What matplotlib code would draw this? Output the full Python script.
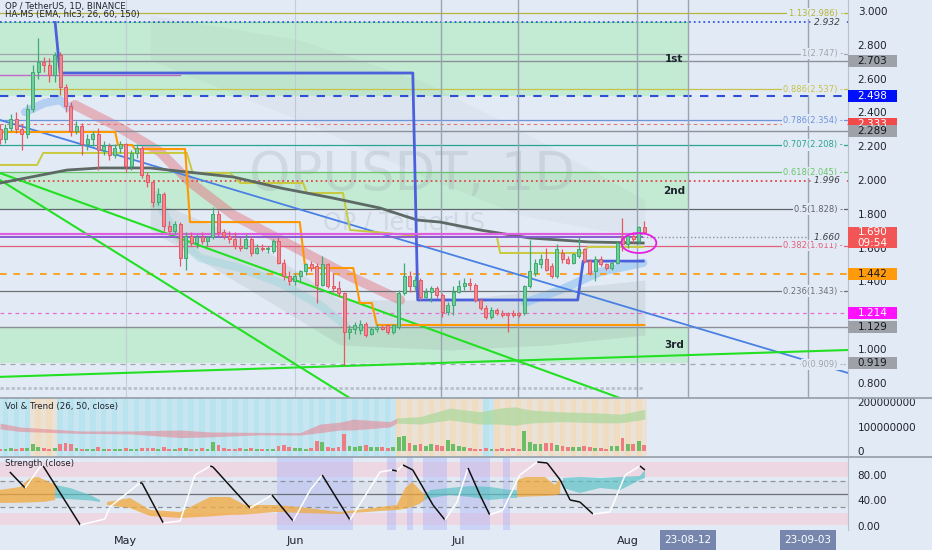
import numpy as np
import pandas as pd
import matplotlib
matplotlib.use("Agg")
import matplotlib.pyplot as plt
from matplotlib.patches import Rectangle, Ellipse
from matplotlib.collections import LineCollection
from matplotlib.lines import Line2D

# ---------------- data ----------------
start = pd.Timestamp("2023-04-08")

opens = [2.30, 2.24, 2.31, 2.36, 2.30, 2.27, 2.42, 2.64, 2.70, 2.68,
         2.62, 2.74, 2.55, 2.44, 2.29, 2.32, 2.21, 2.24, 2.27, 2.18,
         2.20, 2.15, 2.19, 2.21, 2.08, 2.16, 2.19, 2.03, 1.99, 1.87,
         1.92, 1.73, 1.70, 1.74, 1.54, 1.67, 1.63, 1.66, 1.64, 1.66,
         1.80, 1.69, 1.67, 1.65, 1.61, 1.60, 1.65, 1.57, 1.60, 1.59,
         1.58, 1.64, 1.51, 1.43, 1.40, 1.43, 1.46, 1.50, 1.49, 1.38,
         1.50, 1.37, 1.36, 1.33, 1.10, 1.12, 1.11, 1.15, 1.09, 1.12,
         1.13, 1.14, 1.10, 1.13, 1.33, 1.43, 1.37, 1.41, 1.31, 1.34,
         1.36, 1.32, 1.22, 1.26, 1.34, 1.37, 1.39, 1.38, 1.29, 1.24,
         1.19, 1.23, 1.21, 1.21, 1.21, 1.21, 1.21, 1.37, 1.45, 1.50,
         1.53, 1.49, 1.43, 1.57, 1.53, 1.51, 1.55, 1.59, 1.52, 1.46,
         1.53, 1.50, 1.48, 1.51, 1.66, 1.62, 1.67, 1.64, 1.72]
highs = [2.33, 2.33, 2.39, 2.40, 2.33, 2.45, 2.68, 2.84, 2.73, 2.72,
         2.76, 2.76, 2.57, 2.46, 2.35, 2.34, 2.27, 2.29, 2.31, 2.23,
         2.22, 2.21, 2.23, 2.22, 2.18, 2.21, 2.20, 2.05, 2.00, 1.95,
         1.93, 1.76, 1.76, 1.75, 1.69, 1.69, 1.68, 1.69, 1.67, 1.84,
         1.82, 1.71, 1.70, 1.69, 1.66, 1.68, 1.67, 1.62, 1.62, 1.61,
         1.65, 1.66, 1.53, 1.46, 1.45, 1.47, 1.51, 1.52, 1.51, 1.55,
         1.51, 1.45, 1.40, 1.34, 1.14, 1.16, 1.17, 1.16, 1.13, 1.15,
         1.14, 1.15, 1.15, 1.35, 1.51, 1.46, 1.43, 1.42, 1.36, 1.37,
         1.37, 1.33, 1.28, 1.37, 1.41, 1.42, 1.42, 1.39, 1.30, 1.26,
         1.25, 1.24, 1.23, 1.22, 1.23, 1.22, 1.38, 1.645, 1.53, 1.56,
         1.60, 1.51, 1.62, 1.59, 1.55, 1.57, 1.66, 1.60, 1.53, 1.55,
         1.55, 1.51, 1.52, 1.64, 1.775, 1.68, 1.69, 1.73, 1.76]
lows = [2.21, 2.22, 2.29, 2.28, 2.18, 2.25, 2.40, 2.60, 2.64, 2.58,
        2.58, 2.50, 2.40, 2.26, 2.27, 2.15, 2.18, 2.20, 2.06, 2.15,
        2.12, 2.13, 2.16, 2.05, 2.06, 2.13, 2.01, 1.96, 1.84, 1.85,
        1.70, 1.68, 1.68, 1.49, 1.47, 1.61, 1.60, 1.62, 1.61, 1.65,
        1.67, 1.65, 1.63, 1.59, 1.58, 1.59, 1.55, 1.56, 1.58, 1.57,
        1.57, 1.50, 1.41, 1.38, 1.38, 1.40, 1.44, 1.46, 1.27, 1.37,
        1.36, 1.34, 1.31, 0.905, 1.06, 1.09, 1.09, 1.07, 1.08, 1.10,
        1.11, 1.09, 1.09, 1.12, 1.32, 1.34, 1.35, 1.29, 1.30, 1.28,
        1.30, 1.19, 1.20, 1.20, 1.33, 1.35, 1.35, 1.28, 1.23, 1.18,
        1.18, 1.20, 1.19, 1.10, 1.19, 1.19, 1.20, 1.36, 1.43, 1.48,
        1.46, 1.42, 1.42, 1.51, 1.50, 1.50, 1.54, 1.51, 1.44, 1.40,
        1.49, 1.47, 1.47, 1.50, 1.58, 1.60, 1.63, 1.62, 1.68]
closes = [2.24, 2.31, 2.36, 2.30, 2.27, 2.42, 2.64, 2.70, 2.68, 2.62,
          2.74, 2.55, 2.44, 2.29, 2.32, 2.21, 2.24, 2.27, 2.18, 2.20,
          2.15, 2.19, 2.21, 2.08, 2.16, 2.19, 2.03, 1.99, 1.87, 1.92,
          1.73, 1.70, 1.74, 1.54, 1.67, 1.63, 1.66, 1.64, 1.66, 1.80,
          1.69, 1.67, 1.65, 1.61, 1.60, 1.65, 1.57, 1.60, 1.59, 1.60,
          1.64, 1.51, 1.43, 1.40, 1.43, 1.46, 1.50, 1.48, 1.38, 1.50,
          1.37, 1.36, 1.33, 1.10, 1.12, 1.14, 1.15, 1.08, 1.12, 1.13,
          1.12, 1.10, 1.14, 1.33, 1.43, 1.37, 1.41, 1.31, 1.34, 1.36,
          1.32, 1.22, 1.26, 1.34, 1.37, 1.39, 1.38, 1.29, 1.24, 1.19,
          1.23, 1.21, 1.20, 1.20, 1.20, 1.20, 1.37, 1.46, 1.51, 1.53,
          1.47, 1.43, 1.59, 1.53, 1.51, 1.56, 1.59, 1.52, 1.45, 1.53,
          1.50, 1.48, 1.51, 1.63, 1.62, 1.67, 1.65, 1.72, 1.69]
# volume in millions
volumes = [10, 8, 12, 9, 11, 14, 27, 18, 12, 10,
           13, 30, 33, 28, 12, 9, 10, 8, 15, 9,
           7, 8, 9, 12, 8, 9, 14, 11, 13, 10,
           16, 9, 8, 14, 12, 10, 9, 11, 8, 37,
           26, 12, 10, 9, 11, 8, 13, 10, 9, 8,
           10, 22, 25, 16, 14, 12, 10, 14, 42, 35,
           18, 14, 16, 68, 20, 18, 22, 24, 17, 15,
           16, 14, 18, 58, 62, 34, 26, 30, 22, 27,
           24, 20, 45, 30, 20, 18, 12, 10, 9, 11,
           8, 10, 12, 9, 11, 10, 80, 38, 30, 28,
           34, 32, 25, 20, 18, 15, 17, 22, 16, 14,
           12, 10, 20, 22, 52, 30, 28, 40, 25]

# fibonacci retracement
fib_ratio = ["1.13", "1", "0.886", "0.786", "0.707", "0.618", "0.5", "0.382", "0.236", "0"]
fib_price = [2.986, 2.747, 2.537, 2.354, 2.208, 2.045, 1.828, 1.611, 1.343, 0.909]

# zones
zone_names = ["1st", "2nd", "3rd"]
zone_lo = [2.498, 1.828, 0.919]
zone_hi = [2.932, 2.045, 1.129]
zone_end = "2023-08-12"

# price-scale labels
price_ticks = [0.8, 1.0, 1.4, 1.6, 1.8, 2.0, 2.2, 2.4, 2.6, 2.8, 3.0]
box_price = [2.703, 2.498, 2.333, 2.289, 1.442, 1.214, 1.129, 0.919]
last_price = 1.690
countdown = "09:54"
level_notes = [2.932, 1.996, 1.660]

# indicator lines (day offset, price)
hams_days = [10.1, 11.0, 75.6, 76.5, 105.8, 106.8, 117.8]
hams_vals = [2.932, 2.633, 2.633, 1.290, 1.290, 1.52, 1.52]
base_days = [0, 21.1, 21.6, 24.2, 24.7, 33.9, 34.8, 54.9, 55.9, 64.7, 65.9, 68.1, 69.0, 118.0]
base_vals = [2.284, 2.284, 2.207, 2.207, 2.183, 2.183, 1.751, 1.751, 1.479, 1.479, 1.272, 1.272, 1.142, 1.142]
conv_days = [0, 6.8, 7.9, 34.2, 35.3, 42.1, 44.0, 55.5, 56.2, 62.8, 64.1, 70.9, 77.5, 91.0, 91.6, 106.8, 107.7, 117.8]
conv_vals = [2.089, 2.089, 2.160, 2.160, 2.041, 2.041, 1.982, 1.982, 1.923, 1.923, 1.704, 1.686, 1.663, 1.663, 1.568, 1.568, 1.604, 1.604]
ema_days = [0, 12.3, 18.3, 27.5, 42.7, 51.3, 61.0, 69.6, 76.4, 80.6, 87.9, 97.0, 108.0, 117.8]
ema_vals = [1.982, 2.059, 2.071, 2.071, 2.018, 1.953, 1.893, 1.834, 1.763, 1.751, 1.704, 1.657, 1.633, 1.627]
red_rib_days = [13.7, 22.0, 29.3, 34.8, 42.7, 54.9, 64.1, 73.3]
red_rib_vals = [2.444, 2.308, 2.166, 1.988, 1.793, 1.586, 1.43, 1.29]
blue_rib_days = [4.6, 8.2, 11.0, 12.8]
blue_rib_vals = [2.402, 2.456, 2.473, 2.426]
teal_rib_days = [28.4, 32.1, 36.6, 44.0, 51.3, 58.6, 63.2]
teal_rib_vals = [1.911, 1.675, 1.538, 1.479, 1.391, 1.260, 1.142]
late_rib_days = [96.2, 102.6, 109.9, 117.8]
late_rib_vals = [1.275, 1.349, 1.456, 1.510]
cloud_a_days = [27.5, 54.9, 76.9, 95.2, 109.9, 118.1]
cloud_a_top = [2.976, 2.828, 2.592, 2.296, 2.030, 1.882]
cloud_a_bot = [2.710, 2.355, 2.030, 1.793, 1.704, 1.675]
cloud_b_days = [27.5, 45.8, 62.3, 82.4, 100.7, 118.1]
cloud_b_top = [1.882, 1.645, 1.290, 1.290, 1.349, 1.408]
cloud_b_bot = [1.704, 1.349, 1.024, 0.994, 1.024, 1.083]

# trend lines: (day, price) pairs
blue_trend = [(0, 2.355), (155.3, 0.858)]
green_trends = [[(0, 2.041), (120, 0.634)],
                [(0, 2.000), (70, 0.590)],
                [(0, 0.835), (155.3, 0.994)]]
marker_days = [80.8, 94.9, 116.7]

# volume trend band (millions), bull flag
vt_days = [0, 3.7, 9.2, 14.7, 23.8, 33.0, 38.5, 47.6, 54.9, 58.6, 62.3, 64.7, 71.4, 72.7,
           72.7, 76.9, 82.4, 87.9, 91.6, 94.3, 97.1, 102.6, 109.9, 113.6, 118.1]
vt_hi = [114, 98, 90, 82, 82, 86, 78, 76, 75, 110, 118, 130, 120, 135,
         135, 140, 175, 160, 175, 180, 167, 160, 155, 150, 170]
vt_lo = [90, 80, 76, 72, 70, 55, 58, 66, 65, 75, 86, 86, 98, 114,
         114, 110, 127, 110, 110, 105, 114, 120, 115, 115, 130]
vt_bull = [0, 0, 0, 0, 0, 0, 0, 0, 0, 0, 0, 0, 0, 0,
           1, 1, 1, 1, 1, 1, 1, 1, 1, 1, 1]
vol_orange_spans = [(5.5, 10.5), (72.5, 88.5), (90.5, 118.5)]

# strength oscillator
osc_days = [1.8, 4.6, 7.3, 7.9, 14.7, 19.2, 20.1, 25.6, 26.0, 29.9, 33.0, 35.7, 38.5, 39.0,
            45.8, 49.8, 53.7, 56.8, 59.0, 64.1, 69.6, 71.8, 72.7, 73.8, 75.6, 79.3, 81.5,
            83.7, 85.7, 87.9, 89.7, 92.1, 95.2, 98.4, 100.2, 102.6, 104.4, 106.2, 108.6,
            111.7, 114.5, 117.2, 118.1]
osc_vals = [84.7, 59.6, 92.5, 94.1, 1.6, 11.0, 29.8, 67.5, 67.5, 4.7, 7.8, 80.0, 94.1, 92.5,
            28.2, 48.6, 7.8, 56.5, 80.0, 9.4, 84.7, 87.8, 86.3, 95.7, 87.8, 32.9, 9.4,
            37.6, 91.0, 48.6, 17.3, 25.1, 80.0, 100.4, 98.8, 72.2, 40.8, 37.6, 18.8,
            22.0, 80.0, 94.1, 87.8]
str_days = [0.0, 3.7, 5.5, 7.0, 8.2, 10.1,
            10.1, 12.8, 16.5, 18.3,
            19.6, 23.8, 27.5, 33.0, 38.5, 42.1, 44.9, 50.4, 54.9, 62.3, 69.6, 72.7, 74.2, 75.5, 76.9, 77.8,
            77.8, 78.8, 82.4, 86.1, 89.7, 93.4, 94.7,
            94.7, 96.2, 99.8, 101.6, 102.6,
            103.1, 106.2, 109.9, 113.6, 117.2, 118.1]
str_hi = [56.5, 61.2, 75.3, 76.9, 72.2, 64.3,
          64.3, 59.6, 48.6, 40.8,
          37.6, 43.9, 25.1, 22.0, 45.5, 45.5, 32.9, 32.9, 29.8, 22.0, 29.8, 32.9, 59.6, 69.0, 56.5, 48.6,
          48.6, 56.5, 59.6, 62.7, 61.2, 56.5, 56.5,
          72.2, 76.9, 76.9, 64.3, 75.3,
          75.3, 76.9, 75.3, 76.9, 78.4, 87.8]
str_lo = [36.1, 36.5, 37.0, 37.5, 38.0, 40.8,
          43.9, 42.0, 40.0, 37.6,
          32.9, 28.0, 15.7, 12.5, 15.0, 17.3, 18.0, 22.0, 20.4, 18.8, 23.5, 25.0, 27.0, 30.0, 35.0, 40.8,
          40.8, 43.9, 48.6, 45.5, 40.8, 43.9, 43.9,
          45.5, 46.0, 47.1, 48.0, 50.2,
          59.6, 51.8, 59.6, 56.5, 72.2, 75.3]
str_bull = [1, 1, 1, 1, 1, 1,
            0, 0, 0, 0,
            1, 1, 1, 1, 1, 1, 1, 1, 1, 1, 1, 1, 1, 1, 1, 1,
            0, 0, 0, 0, 0, 0, 0,
            1, 1, 1, 1, 1,
            0, 0, 0, 0, 0, 0]
str_blue_spans = [(50.7, 64.7), (70.9, 72.5), (74.5, 75.6), (77.5, 81.9), (84.2, 89.7), (92.1, 93.4)]

month_labels = ["May", "Jun", "Jul", "Aug"]
month_dates = ["2023-05-01", "2023-06-01", "2023-07-01", "2023-08-01"]
mark_dates = ["2023-08-12", "2023-09-03"]

# ---------------- figure ----------------
BG = "#e2ebf5"
W, H = 932, 550
fig = plt.figure(figsize=(W / 100, H / 100), dpi=100, facecolor=BG)


def px_axes(x0, y0, x1, y1):
    return fig.add_axes([x0 / W, 1 - y1 / H, (x1 - x0) / W, (y1 - y0) / H])


ax = px_axes(0, 0, 848, 398)
ax_v = px_axes(0, 398, 848, 457)
ax_s = px_axes(0, 457, 848, 530)
ax_r = px_axes(848, 0, 932, 398)

days = np.arange(len(closes))
x_max = 155.3
day_of = lambda d: (pd.Timestamp(d) - start).days

for a in (ax, ax_v, ax_s):
    a.set_facecolor(BG)
    a.set_xlim(0, x_max)
    for s in a.spines.values():
        s.set_visible(False)
    a.spines["right"].set_visible(True)
    a.spines["right"].set_color("#b9c3cd")
    a.yaxis.tick_right()
    a.tick_params(axis="y", length=0, pad=7, labelsize=7.5, labelcolor="#1e222d")
    a.tick_params(axis="x", length=0)
    a.set_xticks([])

# ---- main price panel ----
ax.set_ylim(0.710, 3.065)
ax.set_yticks(price_ticks)
ax.set_yticklabels(["%.3f" % t for t in price_ticks])

zone_x = day_of(zone_end)
for name, lo, hi in zip(zone_names, zone_lo, zone_hi):
    ax.fill_between([0, zone_x], lo, hi, color="#9eeaa8", alpha=0.45, lw=0, zorder=0.3)
    ax.plot([0, zone_x], [hi, hi], color="#7fe08f", lw=0.8, zorder=0.4)
    ax.text(zone_x - 2.5, (lo + hi) / 2, name, ha="center", va="center", fontsize=7.5,
            fontweight="bold", color="#1e222d", zorder=6)

ax.fill_between(cloud_a_days, cloud_a_bot, cloud_a_top, color="#8f9aa3", alpha=0.07, lw=0, zorder=0.6)
ax.fill_between(cloud_b_days, cloud_b_bot, cloud_b_top, color="#7d8890", alpha=0.14, lw=0, zorder=0.6)

ax.text(75.5, 2.03, "OPUSDT, 1D", fontsize=38, ha="center", va="center", color="#8e99a6",
        alpha=0.22, zorder=0.7)
ax.text(74, 1.751, "OP / TetherUS", fontsize=17, ha="center", va="center", color="#8e99a6",
        alpha=0.22, zorder=0.7)

for d in [day_of(m) for m in month_dates[:2]]:
    ax.axvline(d, color="#c4ced8", lw=0.8, zorder=0.5)
for d in marker_days + [day_of(m) for m in mark_dates]:
    ax.axvline(d, color="#98a3b3", lw=1.0, zorder=1.5)

# ribbons
ax.plot(red_rib_days, red_rib_vals, color="#e36d7a", lw=7, alpha=0.45, solid_capstyle="round", zorder=1)
ax.plot(blue_rib_days, blue_rib_vals, color="#8fb8ee", lw=6, alpha=0.55, solid_capstyle="round", zorder=1)
ax.plot(teal_rib_days, teal_rib_vals, color="#8fd5d5", lw=6, alpha=0.4, solid_capstyle="round", zorder=1)
ax.plot(late_rib_days, late_rib_vals, color="#8ec2f2", lw=6, alpha=0.6, solid_capstyle="round", zorder=1)

# fib lines and labels
fib_colors = ["#b7b43a", "#a2a6ae", "#c7c24b", "#6f93db", "#2aa392", "#6cc36c",
              "#5f636b", "#e0607a", "#6d7178", "#a0a4ab"]
for r, p, c in zip(fib_ratio, fib_price, fib_colors):
    ls = (0, (4, 4)) if r == "0" else "-"
    ax.axhline(p, color=c, lw=0.9, ls=ls, zorder=1.2)
    ax.text(154.4, p, "%s(%.3f) -" % (r, p), ha="right", va="center", fontsize=6, color=c,
            zorder=5, bbox=dict(boxstyle="square,pad=0.15", fc=BG, ec="none"))

# horizontal levels
ax.axhline(2.932, color="#3558dc", lw=1.3, ls=":", zorder=1.3)
ax.axhline(2.703, color="#8d9098", lw=1.0, zorder=1.3)
ax.axhline(2.498, color="#2d4fd6", lw=1.5, ls=(0, (4, 4)), zorder=1.3)
ax.axhline(2.333, color="#e57373", lw=0.8, ls=(0, (3, 3)), zorder=1.3)
ax.axhline(2.289, color="#8d9098", lw=1.0, zorder=1.3)
ax.axhline(1.996, color="#e04848", lw=1.3, ls=":", zorder=1.3)
ax.axhline(1.442, color="#ff9800", lw=1.2, ls=(0, (4, 4)), zorder=1.3)
ax.axhline(1.214, color="#e56fcf", lw=0.9, ls=(0, (3, 3)), zorder=1.3)
ax.axhline(1.129, color="#8d9098", lw=1.0, zorder=1.3)
ax.plot([117, 148], [1.660, 1.660], color="#8d9098", lw=1.0, ls=":", zorder=1.3)
ax.plot([0, 117.5], [1.680, 1.680], color="#e05ce0", lw=1.6, zorder=2.5)
ax.plot([0, 117.5], [1.662, 1.662], color="#8a5bd0", lw=1.4, zorder=2.5)
ax.plot([0, 33], [2.62, 2.62], color="#c467c9", lw=1.0, zorder=2.5)
ax.plot([0, 118], [0.769, 0.769], color="#9aa0a8", lw=2.0, ls=(0, (1.2, 0.8)), alpha=0.55, zorder=1.3)
for p in level_notes:
    ax.text(154.4, p, "%.3f " % p, ha="right", va="center", fontsize=6.5, style="italic",
            color="#3d4048", zorder=5, bbox=dict(boxstyle="square,pad=0.1", fc=BG, ec="none"))

# trend lines
(bx0, by0), (bx1, by1) = blue_trend
ax.plot([bx0, bx1], [by0, by1], color="#4a80e3", lw=1.3, zorder=2)
for seg in green_trends:
    ax.plot([seg[0][0], seg[1][0]], [seg[0][1], seg[1][1]], color="#22e022", lw=1.5, zorder=2)

# indicator step lines
ax.plot(conv_days, conv_vals, color="#c8c93d", lw=1.4, zorder=2.2)
ax.plot(ema_days, ema_vals, color="#5c6965", lw=2.0, zorder=2.2)
ax.plot(base_days, base_vals, color="#ff9800", lw=1.5, zorder=2.3)
ax.plot(hams_days, hams_vals, color="#4b61dc", lw=2.0, zorder=2.3)

# candles
o, h, l, c = map(np.array, (opens, highs, lows, closes))
up = c >= o
col = np.where(up, "#3faa72", "#e35a66")
face = np.where(up, "#6fcf9a", "#f08a92")
ax.vlines(days, l, h, colors=col, lw=0.9, zorder=4)
ax.bar(days, np.maximum(np.abs(c - o), 0.004), bottom=np.minimum(o, c), width=0.55,
       color=face, edgecolor=col, linewidth=0.7, zorder=4.1)

ax.add_patch(Ellipse((117.0, 1.627), 6.4, 0.118, fill=False, ec="#e61ee6", lw=1.3, zorder=5))

ax.annotate("OP / TetherUS, 1D, BINANCE", xy=(0, 1), xycoords="axes fraction", xytext=(5, -6),
            textcoords="offset pixels", fontsize=6.2, color="#1e222d", va="center", zorder=7)
ax.annotate("HA-MS (EMA, hlc3, 26, 60, 150)", xy=(0, 1), xycoords="axes fraction", xytext=(5, -15),
            textcoords="offset pixels", fontsize=6.2, color="#1e222d", va="center", zorder=7)

# ---- price scale boxes ----
ax_r.set_ylim(ax.get_ylim())
ax_r.set_xlim(0, 84)
ax_r.axis("off")
ax_r.patch.set_alpha(0)
box_face = ["#9ea1a8", "#0010ff", "#f24a4a", "#9ea1a8", "#ff9a0a", "#ff10ff", "#9ea1a8", "#9ea1a8"]
box_text = ["#131722", "white", "white", "#131722", "#131722", "white", "#131722", "#131722"]
bh = 12 / 169
for p, fc, tc in zip(box_price, box_face, box_text):
    ax_r.add_patch(Rectangle((0, p - bh / 2), 49, bh, fc=fc, ec="none", zorder=3))
    ax_r.text(24.5, p, "%.3f" % p, ha="center", va="center", fontsize=7.5, color=tc, zorder=4)
ax_r.add_patch(Rectangle((0, last_price - 0.095), 49, 0.125, fc="#f25555", ec="none", zorder=3))
ax_r.text(24.5, last_price, "%.3f" % last_price, ha="center", va="center", fontsize=7.5,
          color="white", zorder=4)
ax_r.text(24.5, last_price - 0.062, countdown, ha="center", va="center", fontsize=7.5,
          color="white", zorder=4)

# ---- volume panel ----
ax_v.set_ylim(-24, 216)
ax_v.set_yticks([0, 100, 200])
ax_v.set_yticklabels(["%d" % (v * 1000000) for v in [0, 100, 200]])
orange_days = [d for d in days if any(a0 <= d <= a1 for a0, a1 in vol_orange_spans)]
for d in days:
    clr = "#ffcf8f" if d in orange_days else "#8fdcea"
    ax_v.axvspan(d - 0.5, d + 0.5, color=clr, alpha=0.5 if d % 2 else 0.3, lw=0, zorder=0.5)
vt_bull_b = np.array(vt_bull, dtype=bool)
ax_v.fill_between(vt_days, vt_lo, vt_hi, where=~vt_bull_b, color="#e58a96", alpha=0.6, lw=0, zorder=1)
ax_v.fill_between(vt_days, vt_lo, vt_hi, where=vt_bull_b, color="#a9d89a", alpha=0.7, lw=0, zorder=1)
ax_v.bar(days, volumes, width=0.7, color=np.where(up, "#6bbd68", "#ee7c80"), zorder=2)
ax_v.annotate("Vol & Trend (26, 50, close)", xy=(0, 1), xycoords="axes fraction", xytext=(5, -8),
              textcoords="offset pixels", fontsize=6.2, color="#1e222d", va="center", zorder=7)

# ---- strength panel ----
ax_s.set_ylim(-6.3, 108.2)
ax_s.set_yticks([0, 40, 80])
ax_s.set_yticklabels(["0.00", "40.00", "80.00"])
ax_s.axhspan(77, 100, color="#f2cfdc", alpha=0.7, lw=0, zorder=0.3)
ax_s.axhspan(2, 20, color="#f2cfdc", alpha=0.7, lw=0, zorder=0.3)
ax_s.axhspan(30, 70, color="#d5dae2", alpha=0.5, lw=0, zorder=0.3)
for a0, a1 in str_blue_spans:
    ax_s.axvspan(a0, a1, color="#a9b2f6", alpha=0.42, lw=0, zorder=0.5)
for v, ls, clr in [(70, (0, (4, 3)), "#8e939b"), (30, (0, (4, 3)), "#8e939b"), (50, "-", "#6c7179")]:
    ax_s.axhline(v, color=clr, lw=0.9, ls=ls, zorder=1)
sb = np.array(str_bull, dtype=bool)
ax_s.fill_between(str_days, str_lo, str_hi, where=sb, color="#f2a93b", alpha=0.75, lw=0, zorder=1.5)
ax_s.fill_between(str_days, str_lo, str_hi, where=~sb, color="#5cc3c8", alpha=0.7, lw=0, zorder=1.5)
pts = np.column_stack([osc_days, osc_vals])
segs = np.stack([pts[:-1], pts[1:]], axis=1)
seg_cols = ["white" if b[1] > a[1] else "#111111" for a, b in zip(pts[:-1], pts[1:])]
ax_s.add_collection(LineCollection(segs, colors=seg_cols, linewidths=1.1, zorder=3))
ax_s.annotate("Strength (close)", xy=(0, 1), xycoords="axes fraction", xytext=(5, -7),
              textcoords="offset pixels", fontsize=6.2, color="#1e222d", va="center", zorder=7)

ax_s.set_xticks([day_of(m) for m in month_dates])
ax_s.set_xticklabels(month_labels)
ax_s.tick_params(axis="x", length=0, pad=4, labelsize=8, labelcolor="#1e222d")
for m in mark_dates:
    ax_s.annotate(pd.Timestamp(m).strftime("%y-%m-%d"), xy=(day_of(m), 0), xycoords=("data", "axes fraction"),
                  xytext=(0, -10), textcoords="offset pixels", ha="center", va="center", fontsize=7.5,
                  color="white", annotation_clip=False,
                  bbox=dict(boxstyle="square,pad=0.45", fc="#7686ad", ec="none"))

for yy in (398, 457):
    fig.add_artist(Line2D([0, 1], [1 - yy / H, 1 - yy / H], color="#9aa4ae", lw=1.3))

fig.savefig("out.png", dpi=100, facecolor=BG)
